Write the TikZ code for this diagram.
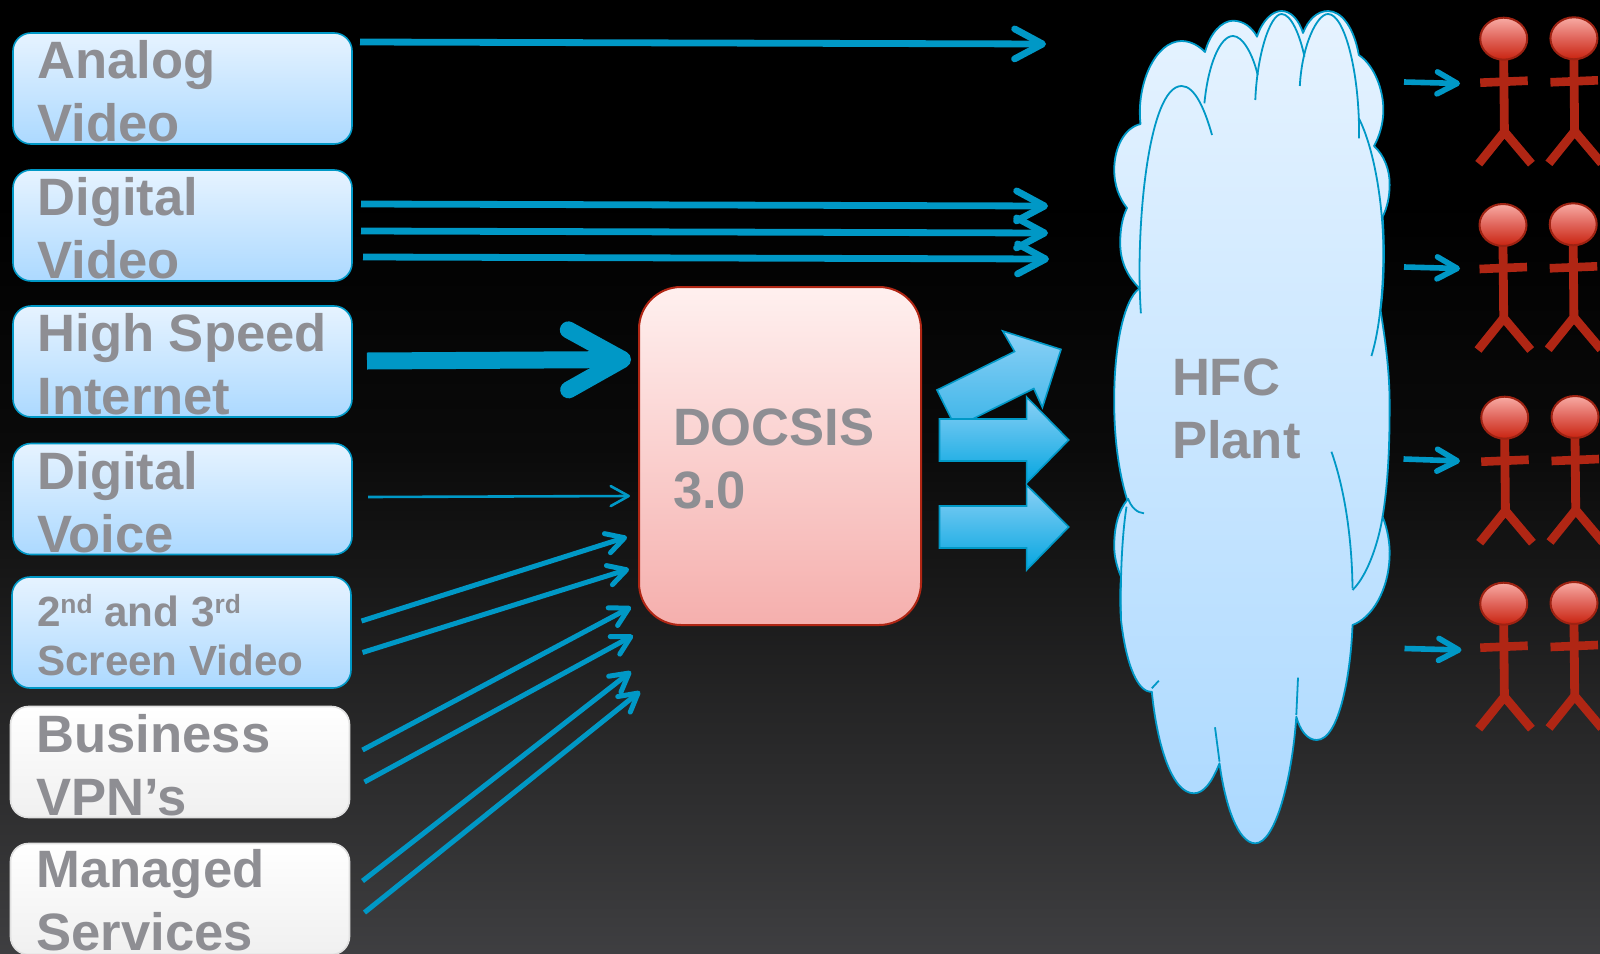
\documentclass[tikz,border=0pt]{standalone}
\usepackage{fontspec}
\setmainfont{Liberation Sans}
\usetikzlibrary{arrows.meta}
\definecolor{conncol}{HTML}{0098C6}
\definecolor{labelcol}{HTML}{8E8E93}
\definecolor{redcol}{HTML}{B02614}
\definecolor{blueA}{HTML}{E6F3FF}
\definecolor{blueB}{HTML}{ACD9FF}
\definecolor{blockA}{HTML}{8AD0F6}
\definecolor{blockB}{HTML}{05A6E0}
\definecolor{blockC}{HTML}{3DB5E8}
\definecolor{headA}{HTML}{F8ABA4}
\definecolor{headB}{HTML}{C92410}
\definecolor{headC}{HTML}{E0645A}
\definecolor{docA}{HTML}{FFF0EF}
\definecolor{docB}{HTML}{F5AFAD}
\newcommand{\ordsup}[1]{\raisebox{6.3pt}{\fontsize{13.2}{13}\selectfont #1}}
\pgfdeclareverticalshading{bgshade}{100bp}{
  rgb(0bp)=(0.245,0.245,0.255);
  rgb(25bp)=(0.245,0.245,0.255);
  rgb(30.4bp)=(0.2,0.2,0.205);
  rgb(38.3bp)=(0.142,0.142,0.145);
  rgb(45.6bp)=(0.085,0.085,0.085);
  rgb(51.4bp)=(0.04,0.04,0.04);
  rgb(64.5bp)=(0,0,0);
  rgb(100bp)=(0,0,0)}
\tikzset{
  srcbox/.style={rectangle,rounded corners=9pt,minimum width=169.5pt,minimum height=55.5pt,inner sep=0pt,outer sep=0pt},
  bluebox/.style={srcbox,draw=conncol,line width=0.8pt,top color=blueA,bottom color=blueB},
  whitebox/.style={srcbox,draw=black!12,line width=0.8pt,top color=white,bottom color=black!6},
  bigtext/.style={anchor=base west,align=left,inner sep=0pt,outer sep=0pt,text=labelcol,font=\fontsize{26.3}{31.5}\selectfont\bfseries},
  smalltext/.style={anchor=base west,align=left,inner sep=0pt,outer sep=0pt,text=labelcol,font=\fontsize{21.1}{24.5}\selectfont\bfseries},
  connA/.style={draw=conncol,line width=3.4pt,-{Straight Barb[length=14pt,width=15pt,round]}},
  connB/.style={draw=conncol,line width=8.5pt,-{Straight Barb[length=27pt,width=30pt,round]}},
  connC/.style={draw=conncol,line width=1.3pt,-{Straight Barb[length=9pt,width=10pt,round]}},
  connD/.style={draw=conncol,line width=2.5pt,-{Straight Barb[length=9pt,width=10pt,round]}},
  connE/.style={draw=conncol,line width=2.8pt,-{Straight Barb[length=10pt,width=11pt,round]}},
  blockarrow/.style={draw=conncol,line width=0.8pt,top color=blockA,bottom color=blockB},
  cloudline/.style={draw=conncol,line width=0.9pt,line join=round},
  person/.pic={
    \draw[redcol,line width=4.4pt] (0,21) -- (0.7,93);
    \draw[redcol,line width=4.3pt] (-23.5,44) -- (24,42);
    \draw[redcol,line width=4.4pt,line join=miter] (-25,125) -- (0.7,93) -- (27.7,125);
    \draw[draw=redcol!90!black,line width=1pt,top color=headA,bottom color=headB,middle color=headC] (0,0) ellipse [x radius=23.5,y radius=21];
  }
}
\begin{document}
\begin{tikzpicture}[x=0.5pt,y=-0.5pt]
\clip (0,0) rectangle (1600,953);
\path[shading=bgshade] (0,0) rectangle (1600,953);

% source boxes
\node[bluebox] (b1) at (182.5,88.5) {};
\node[bluebox] (b2) at (182.5,225.5) {};
\node[bluebox] (b3) at (182.5,361.5) {};
\node[bluebox] (b4) at (182.5,499) {};
\node[bluebox] (b5) at (181.5,632.5) {};
\node[whitebox] (b6) at (180,762) {};
\node[whitebox] (b7) at (180,899) {};
\node[bigtext] (t1) at (37.5,141) {Analog\\Video};
\node[bigtext] (t2) at (37.5,278) {Digital\\Video};
\node[bigtext] (t3) at (37.5,414.5) {High Speed\\Internet};
\node[bigtext] (t4) at (37.5,552) {Digital\\Voice};
\node[smalltext] (t5) at (37,675) {2\ordsup{nd} and 3\ordsup{rd}\\Screen Video};
\node[bigtext] (t6) at (36.5,815) {Business\\VPN’s};
\node[bigtext] (t7) at (36.5,950.5) {Managed\\Services};

% central box
\node[rectangle,rounded corners=21pt,minimum width=141pt,minimum height=169pt,inner sep=0pt,draw=redcol,line width=1pt,top color=docA,bottom color=docB] (docsis) at (780,456) {};
\node[bigtext] (docsist) at (673,508.5) {DOCSIS\\3.0};

% straight connectors
\coordinate (c1s) at (360,42);   \coordinate (c1e) at (1046,44);
\coordinate (c2s) at (361,204);  \coordinate (c2e) at (1048,206);
\coordinate (c3s) at (361,231);  \coordinate (c3e) at (1048,233);
\coordinate (c4s) at (363,257);  \coordinate (c4e) at (1049,259);
\coordinate (c5s) at (367,361);  \coordinate (c5e) at (631,359.5);
\coordinate (c6s) at (368,497);  \coordinate (c6e) at (630,496);
\coordinate (c7s) at (361.5,621);  \coordinate (c7e) at (627,537);
\coordinate (c8s) at (362.5,652.5);\coordinate (c8e) at (629,569);
\coordinate (c9s) at (362.5,750);  \coordinate (c9e) at (631,607);
\coordinate (c10s) at (364.5,782); \coordinate (c10e) at (633,635.5);
\coordinate (c11s) at (362.5,881); \coordinate (c11e) at (631,671.5);
\coordinate (c12s) at (364.5,912.5);\coordinate (c12e) at (640,691.5);
\coordinate (c13s) at (1404,82);   \coordinate (c13e) at (1460,83.5);
\coordinate (c14s) at (1404,267);  \coordinate (c14e) at (1460,268.5);
\coordinate (c15s) at (1403.5,459);\coordinate (c15e) at (1460,461);
\coordinate (c16s) at (1404.5,648.5);\coordinate (c16e) at (1461.5,650);
\draw[connA] (c1s) -- (c1e);
\draw[connA] (c2s) -- (c2e);
\draw[connA] (c3s) -- (c3e);
\draw[connA] (c4s) -- (c4e);
\draw[connB] (c5s) -- (c5e);
\draw[connC] (c6s) -- (c6e);
\foreach \n in {7,...,12} {\draw[connD] (c\n s) -- (c\n e);}
\foreach \n in {13,...,16} {\draw[connE] (c\n s) -- (c\n e);}

% block arrows
\path[blockarrow,bottom color=blockC] (937,390) -- (1014.6,351.5) -- (1002.7,331) -- (1061,349.4) -- (1042.4,407.5) -- (1033.8,388.6) -- (955.6,427.4) -- cycle;
\path[blockarrow] (939.5,419) -- (1026.6,419) -- (1026.6,397) -- (1068.7,440) -- (1026.6,483) -- (1026.6,461) -- (939.5,461) -- cycle;
\path[blockarrow] (939.5,506) -- (1026.6,506) -- (1026.6,485) -- (1068.7,527) -- (1026.6,570) -- (1026.6,548) -- (939.5,548) -- cycle;

% cloud
\path[cloudline,top color=blueA,bottom color=blueB]
  (1140.5,124) .. controls (1136,85) and (1155,41) .. (1181.6,41)
  .. controls (1192,41) and (1200,47) .. (1205,52)
  .. controls (1210,33) and (1222,20.7) .. (1233,20.7)
  .. controls (1243,20.7) and (1252,27) .. (1257,36.7)
  .. controls (1262,21) and (1272,11) .. (1281.6,11)
  .. controls (1291,11) and (1299,20) .. (1303,33)
  .. controls (1308,20) and (1317,11) .. (1328,11)
  .. controls (1342,11) and (1354,28) .. (1358.8,55)
  .. controls (1374,65) and (1384,90) .. (1383.3,112)
  .. controls (1383,125) and (1379,137) .. (1374,146)
  .. controls (1384,155) and (1390,170) .. (1389.6,185)
  .. controls (1389.6,197) and (1387,208) .. (1382.6,216.7)
  .. controls (1385,250) and (1384,285) .. (1380.5,310)
  .. controls (1386,345) and (1390,375) .. (1389.6,410)
  .. controls (1389.6,455) and (1387,490) .. (1382.6,516.7)
  .. controls (1388,530) and (1390,545) .. (1389.6,555)
  .. controls (1389,590) and (1372,618) .. (1352.5,625)
  .. controls (1351,670) and (1340,740) .. (1316.7,740)
  .. controls (1307,740) and (1300,730) .. (1296.3,716.7)
  .. controls (1292,780) and (1275,843.3) .. (1255.3,843.3)
  .. controls (1238,843.3) and (1225,805) .. (1219.5,763.3)
  .. controls (1212,782) and (1204,793.3) .. (1193.9,793.3)
  .. controls (1172,793.3) and (1157,745) .. (1151.8,691.7)
  .. controls (1138,693) and (1126,665) .. (1121,620)
  .. controls (1120,605) and (1120,590) .. (1121,576.7)
  .. controls (1116,565) and (1114.2,555) .. (1114.2,546)
  .. controls (1114.2,525) and (1119,510) .. (1127.2,500)
  .. controls (1118,470) and (1114,435) .. (1114.2,400)
  .. controls (1114,350) and (1123,300) .. (1139.5,288.3)
  .. controls (1126,275) and (1120.2,260) .. (1120.2,243)
  .. controls (1120.2,230) and (1122,218) .. (1127,208)
  .. controls (1119,198) and (1114.2,185) .. (1114.2,170)
  .. controls (1114.2,148) and (1124,128) .. (1140.5,124) -- cycle;
\draw[cloudline] (1140.9,313.3) .. controls (1135,230) and (1148,86) .. (1181.6,86) .. controls (1195,86) and (1205,110) .. (1212,135);
\draw[cloudline] (1204.4,103.3) .. controls (1208,65) and (1220,36) .. (1233,36) .. controls (1243,36) and (1253,55) .. (1257.7,75);
\draw[cloudline] (1255.3,100) .. controls (1257,55) and (1270,14) .. (1281.6,14) .. controls (1291,14) and (1300,35) .. (1304.4,56.7);
\draw[cloudline] (1299.8,86) .. controls (1302,45) and (1317,14) .. (1328,14) .. controls (1345,14) and (1360,75) .. (1359,138.3);
\draw[cloudline] (1358.8,118.3) .. controls (1375,150) and (1384,210) .. (1383.3,256.7) .. controls (1383,300) and (1378,335) .. (1371.4,356);
\draw[cloudline] (1331.4,451.7) .. controls (1345,490) and (1352,540) .. (1352.5,588.3);
\draw[cloudline] (1382.6,516.7) .. controls (1377,550) and (1365,578) .. (1352.5,590);
\draw[cloudline] (1127.9,498.3) .. controls (1131,507) and (1137,513) .. (1144,513.3);
\draw[cloudline] (1126.5,506.7) .. controls (1122,535) and (1120,580) .. (1121,620);
\draw[cloudline] (1151.8,688.3) -- (1158.8,680.7);
\draw[cloudline] (1296.3,715) -- (1298,677.7);
\draw[cloudline] (1219.5,761.7) -- (1215,727.3);
\node[bigtext] (hfct) at (1172,458) {HFC\\Plant};

% people
\foreach \px/\py in {1503.7/38.7,1573.9/38.3,1503/225,1573.2/224.3,1504.7/417.7,1575/417,1503.7/603.7,1574/603}
  \pic at (\px,\py) {person};
\end{tikzpicture}
\end{document}
